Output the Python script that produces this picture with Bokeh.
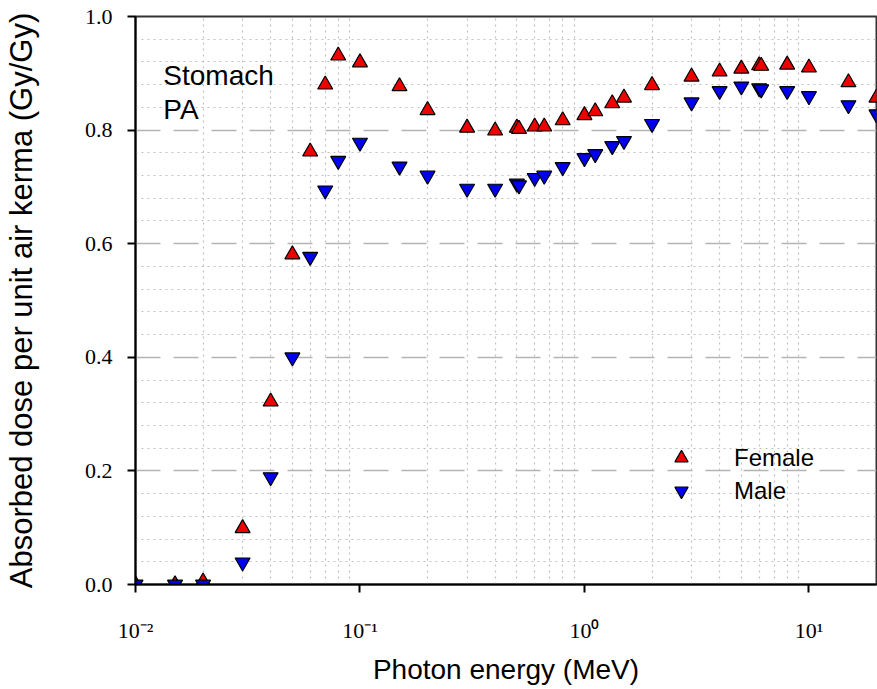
from bokeh.plotting import figure
from bokeh.models import (FixedTicker, CustomJSTickFormatter, PrintfTickFormatter,
                          Label, Legend, LegendItem, Range1d)
from bokeh.embed import file_html
from bokeh.resources import INLINE

# Photon energy (MeV)
energy = [0.01, 0.015, 0.02, 0.03, 0.04, 0.05, 0.06, 0.07, 0.08, 0.1, 0.15, 0.2,
          0.3, 0.4, 0.5, 0.511, 0.6, 0.662, 0.8, 1.0, 1.117, 1.33, 1.5, 2, 3, 4,
          5, 6, 6.129, 8, 10, 15, 20]
# Absorbed dose per unit air kerma (Gy/Gy)
female = [0.0, 0.0, 0.005, 0.099, 0.322, 0.581, 0.762, 0.880, 0.931, 0.919, 0.877,
          0.835, 0.804, 0.799, 0.804, 0.802, 0.806, 0.806, 0.817, 0.826, 0.833,
          0.847, 0.857, 0.879, 0.894, 0.903, 0.908, 0.914, 0.913, 0.915, 0.910,
          0.884, 0.857]
male = [0.0, 0.0, 0.0, 0.039, 0.189, 0.400, 0.577, 0.694, 0.746, 0.778, 0.736,
        0.720, 0.697, 0.697, 0.706, 0.703, 0.716, 0.720, 0.735, 0.751, 0.758,
        0.772, 0.781, 0.811, 0.849, 0.869, 0.877, 0.874, 0.872, 0.869, 0.860,
        0.844, 0.828]

x_ticks = [0.01, 0.1, 1, 10]
x_tick_labels = ["10\u207b\u00b2", "10\u207b\u00b9", "10\u2070", "10\u00b9"]
y_ticks = [0.0, 0.2, 0.4, 0.6, 0.8, 1.0]

x_minor = [m * d for d in x_ticks for m in range(2, 10) if m * d <= 20]
y_minor = [round(i * 0.04, 2) for i in range(26) if i % 5 != 0]

p = figure(width=877, height=689, x_axis_type="log",
           x_range=Range1d(0.01, 20), y_range=Range1d(0, 1.0),
           output_backend="svg", toolbar_location=None,
           min_border_left=135, min_border_right=1, min_border_top=16,
           min_border_bottom=105, background_fill_color="white",
           border_fill_color="white")

p.outline_line_color = "#333333"
p.outline_line_width = 2

# axes
xa = p.xaxis[0]
ya = p.yaxis[0]
xa.ticker = FixedTicker(ticks=x_ticks, minor_ticks=x_minor)
xa.formatter = CustomJSTickFormatter(args=dict(tvals=x_ticks, tlabels=x_tick_labels), code="""
    for (let i = 0; i < tvals.length; i++) {
        if (Math.abs(Math.log10(tvals[i]) - Math.log10(tick)) < 1e-6) return tlabels[i];
    }
    return "";
""")
ya.ticker = FixedTicker(ticks=y_ticks, minor_ticks=y_minor)
ya.formatter = PrintfTickFormatter(format="%.1f")

for ax in (xa, ya):
    ax.axis_line_color = "black"
    ax.axis_line_width = 2
    ax.major_tick_line_color = "black"
    ax.major_tick_line_width = 2
    ax.major_tick_out = 8
    ax.major_tick_in = 0
    ax.minor_tick_line_color = None
    ax.major_label_text_font = "Liberation Serif"
    ax.major_label_text_font_size = "22px"
    ax.major_label_text_color = "black"
    ax.axis_label_text_font = "Liberation Sans"
    ax.axis_label_text_font_style = "normal"
    ax.axis_label_text_color = "black"

xa.axis_label_text_font_size = "28px"
ya.axis_label_text_font_size = "31px"
xa.axis_label = "Photon energy (MeV)"
ya.axis_label = "Absorbed dose per unit air kerma (Gy/Gy)"
xa.major_label_standoff = 25
xa.axis_label_standoff = 8
ya.major_label_standoff = 15
ya.axis_label_standoff = 43

# grids
xg = p.xgrid[0]
yg = p.ygrid[0]
xg.ticker = FixedTicker(ticks=x_ticks, minor_ticks=x_minor)
yg.ticker = FixedTicker(ticks=y_ticks, minor_ticks=y_minor)
xg.grid_line_color = None
xg.minor_grid_line_color = "#c0c0c0"
xg.minor_grid_line_dash = "2 4"
xg.minor_grid_line_width = 1.2
yg.grid_line_color = "#b4b4b4"
yg.grid_line_dash = "25 13"
yg.grid_line_width = 1.5
yg.minor_grid_line_color = "#c0c0c0"
yg.minor_grid_line_dash = "2 4"
yg.minor_grid_line_width = 1.2

# data
rf = p.scatter(energy, female, marker="triangle", size=15, fill_color="#ee0000",
               line_color="black", line_width=1.2)
rm = p.scatter(energy, male, marker="inverted_triangle", size=15, fill_color="#0000ee",
               line_color="black", line_width=1.2)

legend = Legend(items=[LegendItem(label="Female", renderers=[rf]),
                       LegendItem(label="Male", renderers=[rm])],
                location=(528, 77), padding=0, margin=0, spacing=0,
                glyph_width=36, glyph_height=33, label_standoff=35,
                label_text_font="Liberation Sans", label_text_font_size="24px",
                label_text_color="black",
                label_height=33, border_line_color=None,
                background_fill_alpha=0)
p.add_layout(legend, "center")

for txt, yv in (("Stomach", 0.896), ("PA", 0.836)):
    p.add_layout(Label(x=0.0133, y=yv, text=txt, text_font="Liberation Sans",
                       text_font_size="28px", text_color="black",
                       text_baseline="alphabetic"))

open("out.html", "w").write(file_html(p, INLINE))
